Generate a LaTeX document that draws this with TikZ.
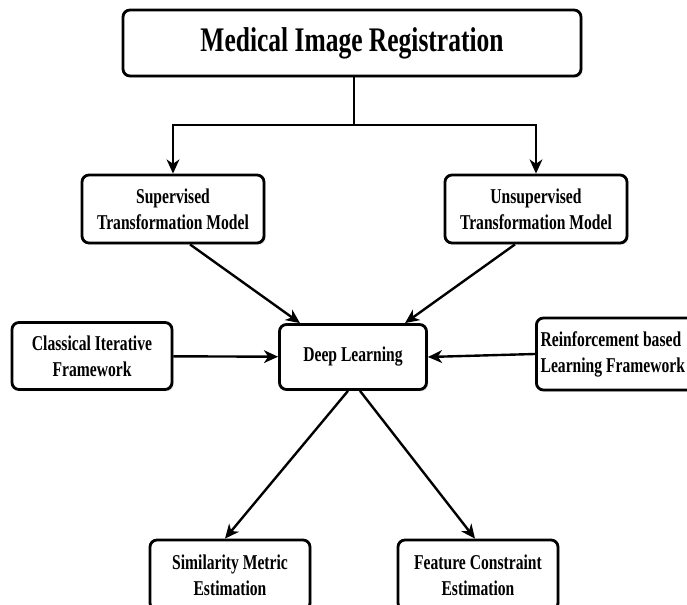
\documentclass[tikz,border=0pt]{standalone}
\usepackage{fontspec}
\setmainfont{Liberation Serif}
\newfontfamily\narrowfont[FakeStretch=0.74]{Liberation Serif}
\usepackage{tikz}
\usetikzlibrary{arrows.meta,shadows}

\begin{document}
\begin{tikzpicture}[x=0.025cm,y=-0.025cm,
    box/.style={draw,line width=2pt,rounded corners=5pt,fill=white,align=center,
        font=\narrowfont\bfseries\fontsize{15}{18.5}\selectfont,
        drop shadow={opacity=0.3,shadow xshift=1.2pt,shadow yshift=-1.2pt}},
    link/.style={line width=1.7pt,-{Stealth[length=10pt,width=9pt,inset=3pt]}}]
    \useasboundingbox (0,0) rectangle (687,605);
    \node[box,minimum width=458*0.025cm,minimum height=66*0.025cm,
        font=\narrowfont\bfseries\fontsize{24.5}{30}\selectfont] (mir) at (352,43) {Medical Image Registration};
    \node[box,minimum width=182*0.025cm,minimum height=68*0.025cm] (sup) at (173,209) {Supervised\\Transformation Model};
    \node[box,minimum width=182*0.025cm,minimum height=68*0.025cm] (unsup) at (536,209) {Unsupervised\\Transformation Model};
    \node[box,minimum width=147*0.025cm,minimum height=65*0.025cm] (dl) at (353,357) {Deep Learning};
    \node[box,minimum width=160*0.025cm,minimum height=67*0.025cm] (cif) at (92,356) {Classical Iterative\\Framework};
    \node[box,anchor=west,align=flush left,text width=160*0.025cm,inner xsep=3pt,minimum height=72*0.025cm] (rlf) at (535,354) {Reinforcement based\\Learning Framework};
    \node[box,minimum width=160*0.025cm,minimum height=70*0.025cm] (sme) at (230,575) {Similarity Metric\\Estimation};
    \node[box,minimum width=160*0.025cm,minimum height=70*0.025cm] (fce) at (478,575) {Feature Constraint\\Estimation};
    \coordinate (split) at (354,125);
    \draw[line width=1.4pt] (mir.south -| split) -- (split);
    \draw[link] (split) -| (sup);
    \draw[link] (split) -| (unsup);
    \draw[link] ([xshift=17*0.025cm]sup.south) -- ([xshift=-53*0.025cm]dl.north);
    \draw[link] ([xshift=-21*0.025cm]unsup.south) -- ([xshift=52*0.025cm]dl.north);
    \draw[link] (cif) -- (dl);
    \draw[link] (rlf.west) -- (dl.east);
    \draw[link] ([xshift=-5*0.025cm]dl.south) -- ([xshift=-5*0.025cm]sme.north);
    \draw[link] ([xshift=7*0.025cm]dl.south) -- ([xshift=-3*0.025cm]fce.north);
\end{tikzpicture}
\end{document}
